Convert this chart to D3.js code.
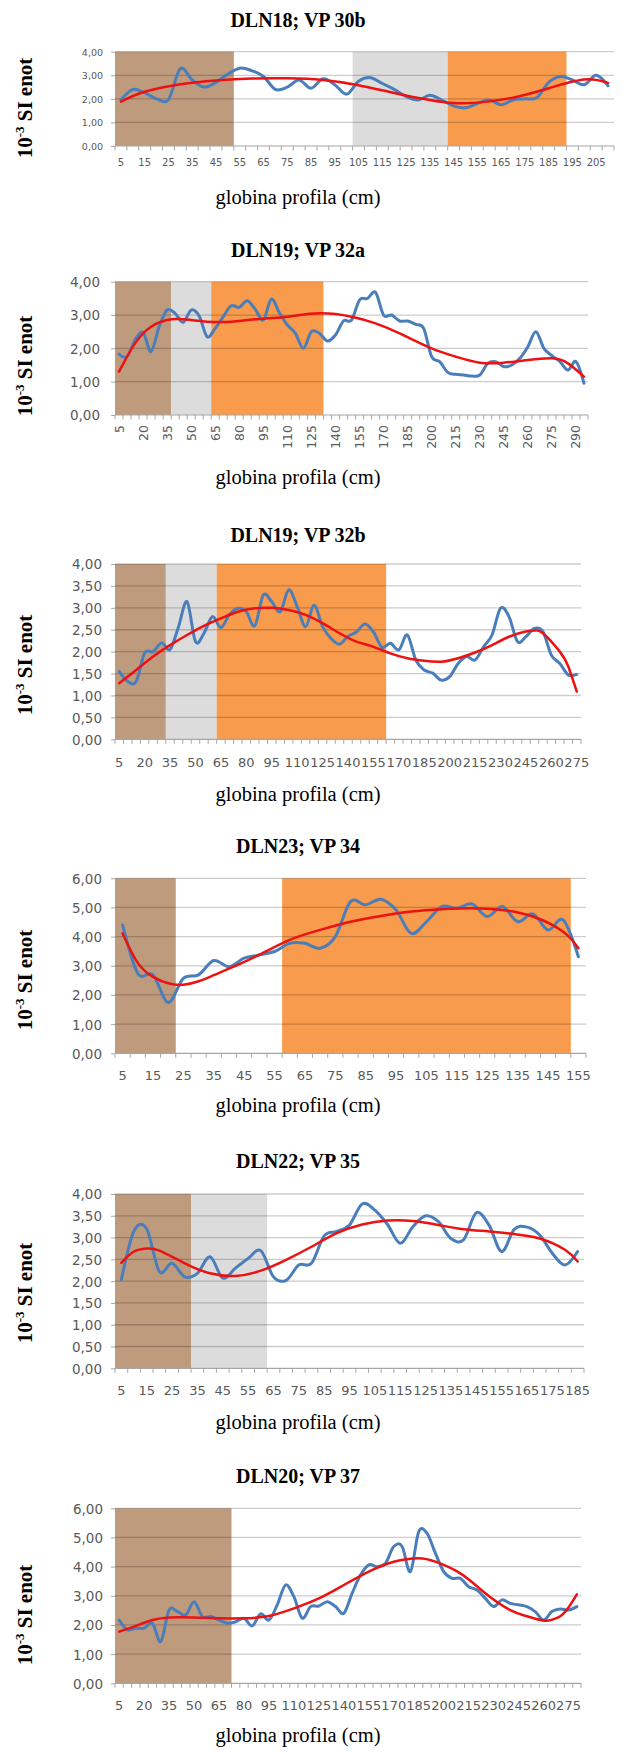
<!DOCTYPE html>
<html><head><meta charset="utf-8">
<script src="https://cdn.jsdelivr.net/npm/d3@7"></script>
<style>body{margin:0;background:#fff}svg{display:block}</style>
</head><body><svg id="c" width="630" height="1753"></svg>
<script>
// ---------- DATA ----------
const titles = ["DLN18; VP 30b","DLN19; VP 32a","DLN19; VP 32b","DLN23; VP 34","DLN22; VP 35","DLN20; VP 37"];
const xTitle = "globina profila (cm)";

const depths1 = [5,10,15,20,25,30,35,40,45,50,55,60,65,70,75,80,85,90,95,100,105,110,115,120,125,130,135,140,145,150,155,160,165,170,175,180,185,190,195,200,205,210];
const values1 = [1.95,2.4,2.25,2.0,1.97,3.28,2.8,2.5,2.7,3.05,3.3,3.2,2.95,2.4,2.5,2.8,2.45,2.85,2.6,2.2,2.75,2.9,2.65,2.4,2.1,1.95,2.15,1.95,1.7,1.62,1.8,1.95,1.75,1.95,2.0,2.05,2.7,2.95,2.8,2.6,3.0,2.55];
const trendDepths1 = [5,15,30,45,60,75,90,105,120,135,145,155,170,185,200,210];
const trendValues1 = [1.88,2.3,2.62,2.78,2.86,2.87,2.8,2.58,2.25,1.95,1.82,1.84,2.05,2.45,2.82,2.68];
const bands1 = [["brown",5,50],["grey",105,140],["orange",145,190]];
const yTicks1 = [0,1,2,3,4];
const xLabels1 = [5,15,25,35,45,55,65,75,85,95,105,115,125,135,145,155,165,175,185,195,205];

const depths2 = [5,10,15,20,25,30,35,40,45,50,55,60,65,70,75,80,85,90,95,100,105,110,115,120,125,130,135,140,145,150,155,160,165,170,175,180,185,190,195,200,205,210,215,220,225,230,235,240,245,250,255,260,265,270,275,280,285,290,295];
const values2 = [1.83,1.75,2.25,2.48,1.9,2.65,3.15,3.05,2.78,3.15,2.97,2.35,2.6,2.95,3.28,3.23,3.43,3.17,2.85,3.48,3.07,2.7,2.45,2.0,2.5,2.45,2.22,2.4,2.82,2.85,3.45,3.5,3.68,3.0,3.0,2.82,2.82,2.72,2.6,1.75,1.6,1.28,1.22,1.2,1.17,1.2,1.55,1.6,1.45,1.5,1.7,2.05,2.5,2.0,1.78,1.6,1.35,1.6,0.95];
const trendDepths2 = [5,15,25,35,45,60,75,90,110,130,150,165,180,200,215,230,245,260,275,285,295];
const trendValues2 = [1.3,2.15,2.65,2.85,2.87,2.8,2.8,2.87,2.95,3.05,2.95,2.75,2.45,2.0,1.75,1.57,1.57,1.65,1.7,1.55,1.15];
const bands2 = [["brown",5,35],["grey",40,60],["orange",65,130]];
const yTicks2 = [0,1,2,3,4];
const xLabels2 = [5,20,35,50,65,80,95,110,125,140,155,170,185,200,215,230,245,260,275,290];

const depths3 = [5,10,15,20,25,30,35,40,45,50,55,60,65,70,75,80,85,90,95,100,105,110,115,120,125,130,135,140,145,150,155,160,165,170,175,180,185,190,195,200,205,210,215,220,225,230,235,240,245,250,255,260,265,270,275];
const values3 = [1.55,1.32,1.32,1.97,2.0,2.2,2.05,2.57,3.14,2.23,2.42,2.8,2.55,2.84,2.99,2.91,2.59,3.29,3.14,2.91,3.41,3.03,2.57,3.06,2.57,2.3,2.17,2.35,2.45,2.63,2.45,2.1,2.19,2.04,2.38,1.81,1.58,1.51,1.35,1.43,1.73,1.89,1.81,2.11,2.38,2.99,2.8,2.23,2.34,2.53,2.46,1.92,1.73,1.47,1.48];
const trendDepths3 = [5,15,25,35,45,55,65,75,85,95,105,115,125,135,145,155,165,175,185,195,205,215,225,235,245,250,255,265,270,275];
const trendValues3 = [1.28,1.58,1.89,2.15,2.38,2.59,2.76,2.91,2.99,3.0,2.95,2.84,2.65,2.42,2.23,2.11,1.96,1.85,1.79,1.77,1.85,1.98,2.15,2.34,2.46,2.48,2.42,2.0,1.66,1.09];
const bands3 = [["brown",5,30],["grey",35,60],["orange",65,160]];
const yTicks3 = [0,0.5,1,1.5,2,2.5,3,3.5,4];
const xLabels3 = [5,20,35,50,65,80,95,110,125,140,155,170,185,200,215,230,245,260,275];

const depths4 = [5,10,15,20,25,30,35,40,45,50,55,60,65,70,75,80,85,90,95,100,105,110,115,120,125,130,135,140,145,150,155];
const values4 = [4.4,2.74,2.69,1.74,2.57,2.69,3.18,2.97,3.26,3.37,3.49,3.77,3.77,3.6,4.0,5.2,5.09,5.28,4.91,4.11,4.51,5.03,4.97,5.12,4.69,5.03,4.51,4.78,4.23,4.57,3.31];
const trendDepths4 = [5,10,15,20,25,30,35,40,50,60,70,80,90,100,110,120,130,140,150,155];
const trendValues4 = [4.11,3.1,2.62,2.4,2.35,2.47,2.68,2.9,3.38,3.89,4.23,4.51,4.71,4.86,4.94,4.97,4.91,4.69,4.17,3.6];
const bands4 = [["brown",5,20],["orange",60,150]];
const yTicks4 = [0,1,2,3,4,5,6];
const xLabels4 = [5,15,25,35,45,55,65,75,85,95,105,115,125,135,145,155];

const depths5 = [5,10,15,20,25,30,35,40,45,50,55,60,65,70,75,80,85,90,95,100,105,110,115,120,125,130,135,140,145,150,155,160,165,170,175,180,185];
const values5 = [2.03,3.15,3.2,2.22,2.41,2.1,2.18,2.56,2.07,2.3,2.52,2.7,2.1,2.02,2.37,2.41,3.04,3.14,3.29,3.77,3.63,3.3,2.87,3.25,3.5,3.37,2.98,2.95,3.57,3.29,2.68,3.19,3.24,3.06,2.64,2.37,2.68];
const trendDepths5 = [5,10,15,20,30,40,50,60,70,80,90,100,110,120,130,140,150,160,170,180,185];
const trendValues5 = [2.42,2.68,2.75,2.7,2.41,2.18,2.12,2.24,2.49,2.79,3.1,3.3,3.39,3.38,3.29,3.19,3.14,3.08,2.98,2.72,2.45];
const bands5 = [["brown",5,30],["grey",35,60]];
const yTicks5 = [0,0.5,1,1.5,2,2.5,3,3.5,4];
const xLabels5 = [5,15,25,35,45,55,65,75,85,95,105,115,125,135,145,155,165,175,185];

const depths6 = [5,10,15,20,25,30,35,40,45,50,55,60,65,70,75,80,85,90,95,100,105,110,115,120,125,130,135,140,145,150,155,160,165,170,175,180,185,190,195,200,205,210,215,220,225,230,235,240,245,250,255,260,265,270,275,280];
const values6 = [2.17,1.83,1.89,1.89,2.06,1.43,2.51,2.46,2.34,2.8,2.29,2.29,2.17,2.06,2.11,2.23,1.97,2.38,2.17,2.69,3.37,2.97,2.23,2.63,2.65,2.8,2.63,2.4,3.09,3.71,4.06,4.0,4.11,4.69,4.69,3.83,5.2,5.14,4.46,3.83,3.6,3.6,3.31,3.2,2.91,2.63,2.86,2.74,2.69,2.63,2.46,2.17,2.46,2.55,2.51,2.63];
const trendDepths6 = [5,15,25,35,50,65,80,95,110,125,140,155,170,185,195,210,225,240,250,260,265,270,275,280];
const trendValues6 = [1.77,1.97,2.17,2.26,2.26,2.23,2.23,2.31,2.57,2.91,3.37,3.83,4.17,4.29,4.17,3.77,3.09,2.51,2.3,2.15,2.18,2.3,2.6,3.05];
const bands6 = [["brown",5,70]];
const yTicks6 = [0,1,2,3,4,5,6];
const xLabels6 = [5,20,35,50,65,80,95,110,125,140,155,170,185,200,215,230,245,260,275];

// ---------- BUILD ----------
const panels = [
  {depths:depths1, values:values1, td:trendDepths1, tv:trendValues1, bands:bands1, yTicks:yTicks1, xLabels:xLabels1},
  {depths:depths2, values:values2, td:trendDepths2, tv:trendValues2, bands:bands2, yTicks:yTicks2, xLabels:xLabels2},
  {depths:depths3, values:values3, td:trendDepths3, tv:trendValues3, bands:bands3, yTicks:yTicks3, xLabels:xLabels3},
  {depths:depths4, values:values4, td:trendDepths4, tv:trendValues4, bands:bands4, yTicks:yTicks4, xLabels:xLabels4},
  {depths:depths5, values:values5, td:trendDepths5, tv:trendValues5, bands:bands5, yTicks:yTicks5, xLabels:xLabels5},
  {depths:depths6, values:values6, td:trendDepths6, tv:trendValues6, bands:bands6, yTicks:yTicks6, xLabels:xLabels6}
];

const layout = [
  {titleY:20,    top:51.7,   bottom:146,    right:614, yFont:9.5,  yPad:8,  xFont:10,   xLabY:162,    xTitleY:199,  yTitleY:108,  rot:false},
  {titleY:250,   top:281.7,  bottom:415,    right:588, yFont:13.5, yPad:11, xFont:12.5, xLabY:425,    xTitleY:479,  yTitleY:366,  rot:true},
  {titleY:535,   top:564,    bottom:739.3,  right:581, yFont:13.5, yPad:9,  xFont:13,   xLabY:762,    xTitleY:796,  yTitleY:665,  rot:false},
  {titleY:846.7, top:878.3,  bottom:1053.3, right:586, yFont:13.5, yPad:9,  xFont:13,   xLabY:1075.7, xTitleY:1107, yTitleY:980,  rot:false},
  {titleY:1161.7,top:1194,   bottom:1368.3, right:584, yFont:13.5, yPad:9,  xFont:13,   xLabY:1390,   xTitleY:1424, yTitleY:1293, rot:false},
  {titleY:1476.7,top:1508.3, bottom:1683.3, right:581, yFont:13.5, yPad:8,  xFont:13,   xLabY:1705,   xTitleY:1737, yTitleY:1615, rot:false}
];

const left = 115;
const cxTitle = 298;
const bandColor = {brown:"#bf9b7e", grey:"#dcdcdc", orange:"#f89b4c"};
const fmt = v => v.toFixed(2).replace(".", ",");
const svg = d3.select("#c");
const serif = "'Liberation Serif','Times New Roman',serif";
const sans = "'DejaVu Sans',sans-serif";

panels.forEach((p, i) => {
  const L = layout[i];
  const g = svg.append("g");
  const x = d3.scaleBand().domain(p.depths).range([left, L.right]).padding(0);
  const yMax = d3.max(p.yTicks);
  const y = d3.scaleLinear().domain([0, yMax]).range([L.bottom, L.top]);
  const bw = x.bandwidth();
  const cx = d => x(d) + bw / 2;

  // title
  g.append("text").attr("x", cxTitle).attr("y", L.titleY + 6.6)
    .attr("text-anchor", "middle").attr("font-family", serif)
    .attr("font-weight", "bold").attr("font-size", 20).attr("fill", "#000")
    .text(titles[i]);

  // bands
  g.selectAll("rect.band").data(p.bands).join("rect").attr("class", "band")
    .attr("x", b => x(b[1])).attr("width", b => x(b[2]) + bw - x(b[1]))
    .attr("y", L.top).attr("height", L.bottom - L.top)
    .attr("fill", b => bandColor[b[0]]);

  // gridlines
  g.selectAll("line.grid").data(p.yTicks.filter(t => t > 0)).join("line").attr("class", "grid")
    .attr("x1", left).attr("x2", L.right)
    .attr("y1", t => y(t)).attr("y2", t => y(t))
    .attr("stroke", "#000").attr("stroke-opacity", 0.2).attr("stroke-width", 1.3);

  // y axis
  const ya = g.append("g").attr("transform", `translate(${left},0)`)
    .call(d3.axisLeft(y).tickValues(p.yTicks).tickFormat(fmt).tickSize(4).tickPadding(L.yPad));
  ya.select(".domain").remove();
  ya.selectAll(".tick line").attr("stroke", "#a6a6a6");
  ya.selectAll(".tick text").attr("font-family", sans).attr("font-size", L.yFont)
    .attr("fill", "#595959").attr("dy", (0.36 * L.yFont) + "px");

  // x axis line + category ticks
  g.append("line").attr("x1", left).attr("x2", L.right)
    .attr("y1", L.bottom).attr("y2", L.bottom)
    .attr("stroke", "#a6a6a6").attr("stroke-width", 1.2);
  const bounds = p.depths.map(d => x(d)).concat([L.right]);
  g.selectAll("line.xt").data(bounds).join("line").attr("class", "xt")
    .attr("x1", d => d).attr("x2", d => d)
    .attr("y1", L.bottom).attr("y2", L.bottom + 4.5)
    .attr("stroke", "#a6a6a6").attr("stroke-width", 1);

  // x labels
  const xa = g.append("g").attr("transform", `translate(0,${L.bottom})`)
    .call(d3.axisBottom(x).tickValues(p.xLabels).tickSize(0).tickPadding(0));
  xa.select(".domain").remove();
  const xt = xa.selectAll(".tick text").attr("font-family", sans)
    .attr("font-size", L.xFont).attr("fill", "#595959");
  if (L.rot) {
    xt.attr("transform", "rotate(-90)").attr("text-anchor", "end")
      .attr("x", -(L.xLabY - L.bottom)).attr("y", 0).attr("dy", "0.36em");
  } else {
    xt.attr("y", L.xLabY - L.bottom).attr("dy", (0.36 * L.xFont) + "px");
  }

  // blue data line
  const pts = p.depths.map((d, k) => [cx(d), y(p.values[k])]);
  g.append("path").attr("d", d3.line().curve(d3.curveCardinal.tension(0))(pts))
    .attr("fill", "none").attr("stroke", "#4a7ebb").attr("stroke-width", 3)
    .attr("stroke-linejoin", "round").attr("stroke-linecap", "round");

  // red trend line
  const tp = p.td.map((d, k) => [cx(d), y(p.tv[k])]);
  g.append("path").attr("d", d3.line().curve(d3.curveNatural)(tp))
    .attr("fill", "none").attr("stroke", "#ee1111").attr("stroke-width", 2.5)
    .attr("stroke-linecap", "round");

  // axis titles
  g.append("text").attr("x", cxTitle).attr("y", L.xTitleY + 4.9)
    .attr("text-anchor", "middle").attr("font-family", serif)
    .attr("font-size", 20.5).attr("fill", "#000").text(xTitle);

  const yt = g.append("text").attr("transform", `translate(32,${L.yTitleY}) rotate(-90)`)
    .attr("text-anchor", "middle").attr("font-family", serif)
    .attr("font-weight", "bold").attr("font-size", 21).attr("fill", "#000");
  yt.append("tspan").text("10");
  yt.append("tspan").attr("font-size", 13).attr("dy", -8).text("-3");
  yt.append("tspan").attr("dy", 8).text(" SI enot");
});
</script>
</body></html>
